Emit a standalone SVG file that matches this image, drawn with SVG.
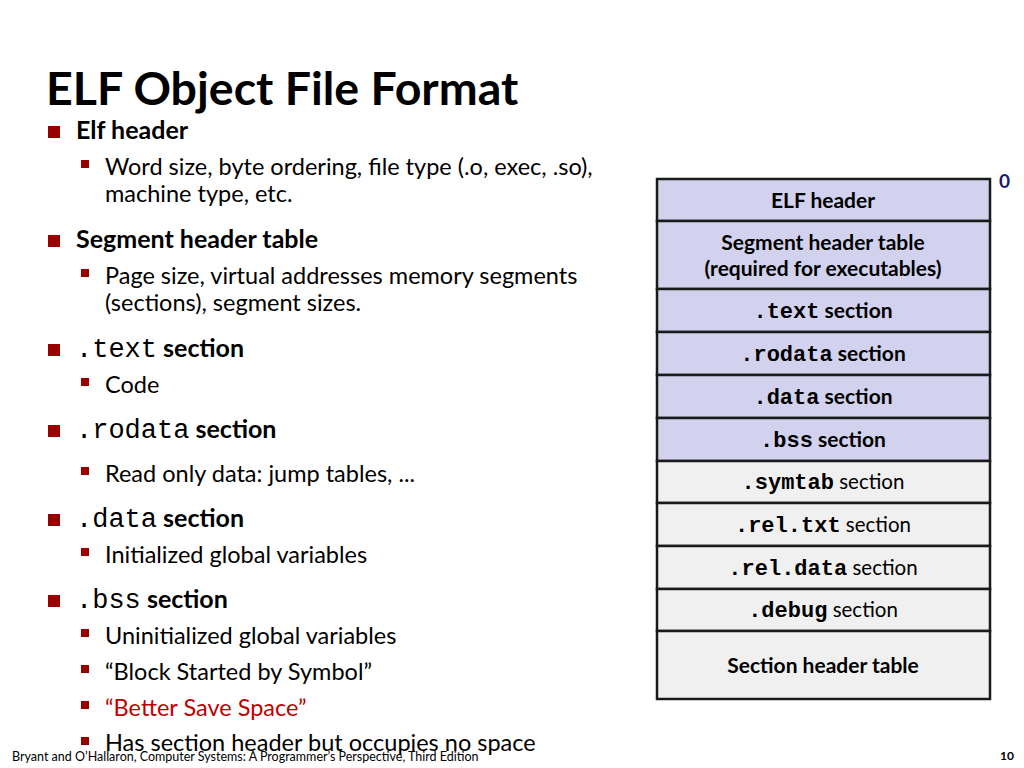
<svg xmlns="http://www.w3.org/2000/svg" width="1024" height="768" viewBox="0 0 1024 768">
<style>
text{font-family:Lato,"Open Sans",sans-serif;fill:#000}
.t{font-size:46.5px;font-weight:bold}
.l1{font-size:25px;font-weight:bold}
.l2{font-size:23.5px}
.m{font-family:"Liberation Mono",monospace;font-weight:normal}
.mb{font-family:"Liberation Mono",monospace;font-weight:bold;font-size:22px}
.b1{fill:#990000}
.p{fill:#d2d2ee;stroke:#1a1a1a;stroke-width:2.5}
.g{fill:#f0f0f0;stroke:#1a1a1a;stroke-width:2.5}
.c{font-size:20.5px;text-anchor:middle}
.cb{font-size:21px;text-anchor:middle;font-weight:bold}
</style>
<rect width="1024" height="768" fill="#fff"/>
<text class="t" x="46" y="105">ELF Object File Format</text>
<g id="bullets">
<rect class="b1" x="48" y="126" width="12" height="12"/>
<text class="l1" x="76" y="139">Elf header</text>
<rect class="b1" x="81" y="160" width="8" height="8"/>
<text class="l2" x="105" y="175">Word size, byte ordering, file type (.o, exec, .so),</text>
<text class="l2" x="105" y="202">machine type, etc.</text>
<rect class="b1" x="48" y="235" width="12" height="12"/>
<text class="l1" x="76" y="248">Segment header table</text>
<rect class="b1" x="81" y="269" width="8" height="8"/>
<text class="l2" x="105" y="284">Page size, virtual addresses memory segments</text>
<text class="l2" x="105" y="311">(sections), segment sizes.</text>
<rect class="b1" x="48" y="344" width="12" height="12"/>
<text class="l1" x="76" y="357"><tspan class="m" font-size="27">.text</tspan> section</text>
<rect class="b1" x="81" y="378" width="8" height="8"/>
<text class="l2" x="105" y="393">Code</text>
<rect class="b1" x="48" y="425" width="12" height="12"/>
<text class="l1" x="76" y="438"><tspan class="m" font-size="27">.rodata</tspan>  section</text>
<rect class="b1" x="81" y="467" width="8" height="8"/>
<text class="l2" x="105" y="482">Read only data: jump tables, ...</text>
<rect class="b1" x="48" y="514" width="12" height="12"/>
<text class="l1" x="76" y="527"><tspan class="m" font-size="27">.data</tspan> section</text>
<rect class="b1" x="81" y="548" width="8" height="8"/>
<text class="l2" x="105" y="563">Initialized global variables</text>
<rect class="b1" x="48" y="595" width="12" height="12"/>
<text class="l1" x="76" y="608"><tspan class="m" font-size="27">.bss</tspan> section</text>
<rect class="b1" x="81" y="629" width="8" height="8"/>
<text class="l2" x="105" y="644">Uninitialized global variables</text>
<rect class="b1" x="81" y="665" width="8" height="8"/>
<text class="l2" x="105" y="680">“Block Started by Symbol”</text>
<rect class="b1" x="81" y="701" width="8" height="8"/>
<text class="l2" x="105" y="716" style="fill:#c00000">“Better Save Space”</text>
<rect class="b1" x="81" y="737" width="8" height="8"/>
<text class="l2" x="105" y="751">Has section header but occupies no space</text>
</g>
<g id="n0"><rect class="p" x="657" y="179" width="333" height="42"/><text class="cb" x="823" y="208">ELF header</text></g>
<g id="n1"><rect class="p" x="657" y="221" width="333" height="68"/><text class="cb" x="823" y="250">Segment header table</text><text class="cb" x="823" y="276">(required for executables)</text></g>
<g id="n2"><rect class="p" x="657" y="289" width="333" height="43"/><text class="cb" x="823" y="318"><tspan class="mb">.text</tspan> section</text></g>
<g id="n3"><rect class="p" x="657" y="332" width="333" height="43"/><text class="cb" x="823" y="361"><tspan class="mb">.rodata</tspan> section</text></g>
<g id="n4"><rect class="p" x="657" y="375" width="333" height="43"/><text class="cb" x="823" y="404"><tspan class="mb">.data</tspan> section</text></g>
<g id="n5"><rect class="p" x="657" y="418" width="333" height="43"/><text class="cb" x="823" y="447"><tspan class="mb">.bss</tspan> section</text></g>
<g id="n6"><rect class="g" x="657" y="461" width="333" height="42"/><text class="c" x="823" y="489"><tspan class="mb">.symtab</tspan>  section</text></g>
<g id="n7"><rect class="g" x="657" y="503" width="333" height="43"/><text class="c" x="823" y="532"><tspan class="mb">.rel.txt</tspan>  section</text></g>
<g id="n8"><rect class="g" x="657" y="546" width="333" height="43"/><text class="c" x="823" y="575"><tspan class="mb">.rel.data</tspan>  section</text></g>
<g id="n9"><rect class="g" x="657" y="589" width="333" height="42"/><text class="c" x="823" y="617"><tspan class="mb">.debug</tspan>  section</text></g>
<g id="n10"><rect class="g" x="657" y="631" width="333" height="68"/><text class="cb" x="823" y="673">Section header table</text></g>
<g id="connectors"/>
<text x="999" y="188" style="font-size:19px;font-weight:bold;fill:#1a1a6e">0</text>
<text x="12" y="761" style="font-size:12.5px">Bryant and O’Hallaron, Computer Systems: A Programmer’s Perspective, Third Edition</text>
<text x="1000" y="760" style="font-size:12px;font-weight:bold">10</text>
</svg>
